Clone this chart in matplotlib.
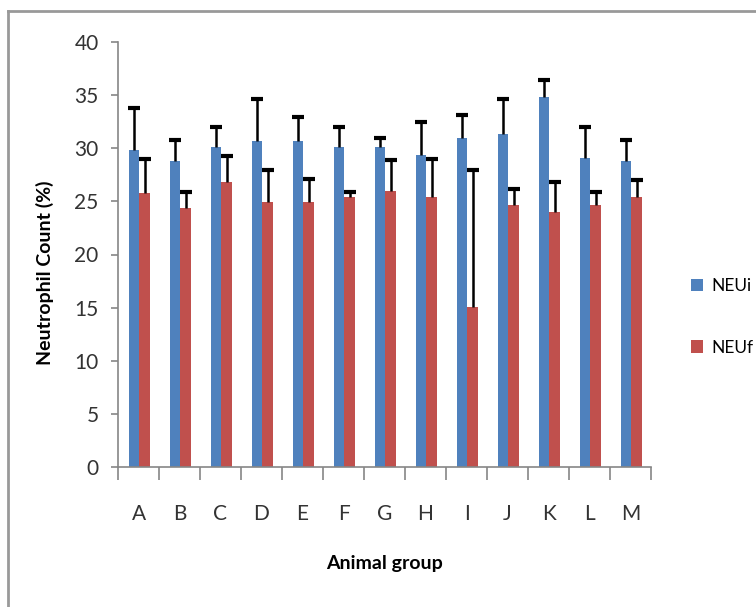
import matplotlib
matplotlib.use("Agg")
import matplotlib.pyplot as plt
from matplotlib.lines import Line2D
import numpy as np

plt.rcParams['font.family'] = ['Lato', 'DejaVu Sans']

groups = ['A', 'B', 'C', 'D', 'E', 'F', 'G', 'H', 'I', 'J', 'K', 'L', 'M']
neui = [29.8, 28.8, 30.1, 30.7, 30.7, 30.1, 30.1, 29.4, 31.0, 31.3, 34.8, 29.1, 28.8]
neui_err = [4.0, 2.0, 1.9, 3.9, 2.2, 1.9, 0.9, 3.1, 2.1, 3.3, 1.6, 2.9, 2.0]
neuf = [25.8, 24.4, 26.8, 24.9, 24.9, 25.4, 26.0, 25.4, 15.1, 24.7, 24.0, 24.7, 25.4]
neuf_err = [3.2, 1.5, 2.5, 3.1, 2.2, 0.5, 2.9, 3.6, 12.9, 1.5, 2.8, 1.2, 1.6]

blue = '#4F81BD'
red = '#C0504D'
gray = '#868686'

fig = plt.figure(figsize=(7.56, 6.07), dpi=100)
ax = fig.add_axes([118/756, 1-467/607, (651-118)/756, (467-42)/607])

x = np.arange(len(groups))
w = 0.26
xb = x - w/2 + 0.02
xr = x + w/2 + 0.02
ax.bar(xb, neui, width=w, color=blue, label='NEUi', zorder=2)
ax.bar(xr, neuf, width=w, color=red, label='NEUf', zorder=2)

for xs, vals, errs in [(xb, neui, neui_err), (xr, neuf, neuf_err)]:
    vals = np.array(vals)
    errs = np.array(errs)
    ax.errorbar(xs, vals, yerr=[np.zeros_like(errs), errs], fmt='none',
                ecolor='black', elinewidth=1.8, capsize=0, zorder=3)
    ax.scatter(xs, vals + errs, marker='_', s=70, color='black',
               linewidths=3, zorder=4)

ax.set_xlim(-0.5, len(groups) - 0.5)
ax.set_ylim(0, 40)
ax.set_yticks(range(0, 41, 5))
ax.set_xticks(x)
ax.set_xticklabels(groups)
ax.set_xticks(np.arange(-0.5, len(groups), 1.0), minor=True)
ax.tick_params(axis='x', which='major', length=0, pad=27, labelsize=15, labelcolor='#333333')
ax.tick_params(axis='x', which='minor', length=9, width=1.2, color=gray, direction='out')
ax.tick_params(axis='y', length=5, width=1.2, color=gray, direction='out', pad=9,
               labelsize=15, labelcolor='#333333')

for s in ['top', 'right']:
    ax.spines[s].set_visible(False)
for s in ['left', 'bottom']:
    ax.spines[s].set_color(gray)
    ax.spines[s].set_linewidth(1.2)

ax.set_ylabel('Neutrophil Count (%)', fontsize=14, fontweight='bold')
ax.yaxis.set_label_coords((45-118)/533, (467-273)/425)
ax.set_xlabel('Animal group', fontsize=14, fontweight='bold')
ax.xaxis.set_label_coords((384-118)/533, -(563-467)/425)
ax.xaxis.label.set_va('center')
ax.yaxis.label.set_va('center')

fig.legend(loc='center left', bbox_to_anchor=(675/756, 1-317/607), frameon=False,
           fontsize=12.5, handlelength=0.7, handleheight=0.7, handletextpad=0.5,
           labelspacing=2.6)

fig.add_artist(Line2D([8/756, 1], [1-11/607, 1-11/607], color='#999999', lw=2,
                      transform=fig.transFigure))
fig.add_artist(Line2D([8/756, 8/756], [0, 1-11/607], color='#999999', lw=2,
                      transform=fig.transFigure))

fig.savefig('out.png', dpi=100)
